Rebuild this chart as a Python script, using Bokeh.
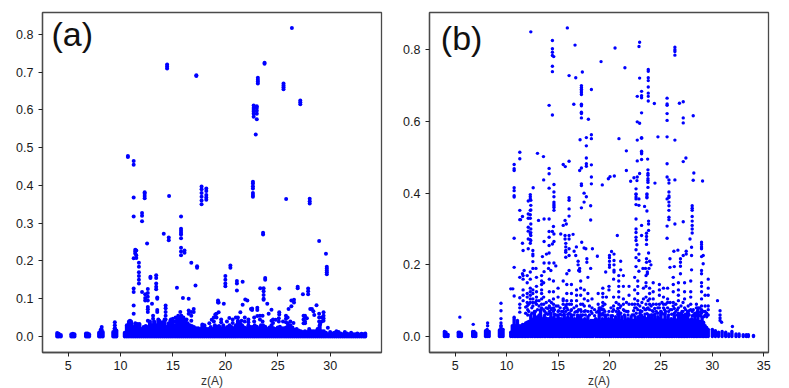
from bokeh.plotting import figure
from bokeh.layouts import row
from bokeh.models import FixedTicker, Label, NumeralTickFormatter, Range1d
from bokeh.embed import file_html
from bokeh.resources import INLINE

# every row is [z, reading, reading, ...]
a_high = [
 [26.35,.817],[14.44,.72,.715,.71],[17.23,.692,.69],[23.74,.725,.722],[23.1,.685,.68,.675,.67],
 [25.55,.67,.665,.66,.655],[27.15,.625,.62,.615],[22.7,.612,.605,.6,.595,.59,.582],
 [23.0,.61,.605,.598,.59,.575],[22.9,.535],[10.7,.478,.475],[11.25,.465,.455,.368,.318,.207,.127,.118,.082,.06],
]
a_mid = [
 [12.3,.382,.378,.372,.366],[14.63,.372],[17.73,.397,.39,.38,.37,.36,.35],[18.18,.392,.385,.375,.368,.362],
 [22.63,.41,.405,.398,.392,.38,.375,.37],[25.8,.364],[28.05,.365,.358,.352],[12.05,.327,.32,.305,.118],
 [12.53,.246],[14.12,.272],[14.6,.262,.255],[15.77,.318,.285,.28,.275,.27,.26,.235,.225,.215],[16.1,.228,.222],
 [16.75,.195],[17.3,.186,.182],[20.48,.188,.182],[20.0,.16,.15,.14,.133],[21.1,.147,.14,.122],[21.65,.145],
 [23.6,.275,.27],[23.8,.155,.15],[23.33,.128],[23.65,.128,.12,.11,.1,.097],[25.15,.127],[26.9,.132,.128],
 [27.4,.112],[27.9,.127,.12,.112],[28.95,.253],[29.6,.219],[29.68,.185,.18,.175,.17,.165],[11.4,.23,.225,.22],
 [11.5,.228,.215,.208],[11.75,.195,.185,.17,.16,.15,.14],
]
a_low = [
 [12.6,.126,.115,.105,.095,.078,.072,.065,.042],[12.35,.112,.102,.095],[12.85,.158,.155],
 [13.4,.162,.155,.14,.132,.125],[13.0,.087],[13.5,.103,.1,.07,.065],[15.38,.129],[15.95,.102],[16.5,.1,.069,.06],
 [17.15,.135],[19.3,.095,.09],[19.85,.087],[21.9,.098],[22.1,.095],[21.65,.084],[22.55,.074,.07],[23.05,.076,.07,.054],
 [24.0,.087],[24.4,.071,.042],[26.3,.095,.08],[26.55,.097,.09],[28.7,.083],[28.1,.073],[28.4,.067],
 [27.6,.055,.05,.04,.035],[14.3,.082,.075,.065,.055,.045],[13.1,.055,.047],[16.98,.073,.065],[16.75,.065,.055,.042],
 [15.7,.065],[15.5,.055,.045,.035],[15.0,.047,.04,.032],[10.9,.042],[19.36,.09,.064],[18.47,.035],[18.7,.044],
 [19.04,.058],[20.38,.049],[21.0,.05],[21.43,.064],[22.44,.073],[24.13,.06],[25.14,.064,.058],[24.8,.044],
 [26.03,.073],[25.78,.055,.047,.038],[25.94,.05,.035],[27.46,.055,.045,.035],[27.78,.048],[28.26,.073],
 [28.48,.057],[29.37,.064,.055,.048,.042],[29.05,.033],[29.78,.023],[9.45,.038,.03,.022],[8.2,.025,.018],
]
a_speck = [
 [13.7,.042,.035],[14.0,.038],[14.75,.042],[15.25,.05,.04],[16.0,.05,.04],[16.3,.045],[18.9,.05,.04],[19.15,.06,.05],
 [19.6,.045,.038],[20.15,.04],[20.7,.045,.036],[21.2,.05,.042],[21.55,.042],[21.85,.05,.04],[22.2,.045,.038],[22.75,.05,.04],
 [23.3,.055,.045],[23.55,.055,.04],[24.55,.045,.036],[25.1,.048,.04],[25.5,.04],[26.2,.04],[26.5,.036],[28.95,.06,.05,.04],[29.2,.05,.04],
]
a_base_z = [3.95,4.1,4.3,5.3,5.45,5.6,6.7,6.85,7.0,7.95,8.1,8.3,9.3,9.45,9.6,
 10.4,10.6,10.8,11.0,11.2,11.4,11.6,11.8,12.0,12.2,12.4,12.6,12.8,13.0,13.2,13.4,13.6,13.8,14.0,14.2,14.4,14.6,14.8,15.0,15.2,15.4,15.6,15.8,16.0,16.2,16.4,16.6,16.8,17.0,17.2,17.4,17.6,17.8,18.0,18.2,18.4,18.6,18.8,19.0,19.2,19.4,19.6,19.8,20.0,20.2,20.4,20.6,20.8,21.0,21.2,21.4,21.6,21.8,22.0,22.2,22.4,22.6,22.8,23.0,23.2,23.4,23.6,23.8,24.0,24.2,24.4,24.6,24.8,25.0,25.2,25.4,25.6,25.8,26.0,26.2,26.4,26.6,26.8,27.0,27.2,27.4,27.6,27.8,28.0,28.2,28.4,28.6,28.8,29.0,29.2,29.4,29.6,29.8,30.0,30.2,30.4,30.6,30.8,31.0,31.2,31.4,31.6,31.8,32.0,32.2,32.4,32.6,32.8,33.0,33.2,33.35]
a_base_top = [.009,.007,.004,.006,.007,.006,.008,.008,.006,.01,.018,.012,.012,.022,.016,
 .01,.03,.04,.04,.025,.035,.033,.033,.02,.025,.028,.025,.04,.03,.04,.03,.045,.035,.035,.045,.025,.035,.045,.03,.03,.045,.05,.055,.045,.04,.035,.03,.028,.025,.022,.022,.02,.032,.03,.02,.02,.025,.02,.03,.026,.028,.022,.03,.022,.025,.03,.025,.022,.03,.04,.035,.03,.024,.022,.03,.025,.025,.03,.026,.022,.03,.03,.026,.02,.024,.03,.022,.02,.024,.026,.022,.022,.024,.03,.03,.024,.018,.02,.016,.014,.012,.014,.012,.02,.014,.014,.014,.02,.03,.014,.014,.01,.006,.012,.008,.01,.014,.012,.008,.006,.012,.008,.006,.01,.006,.006,.008,.005,.007,.006,.008]

b_high = [
 [12.35,.85],[15.9,.861],[14.45,.826,.803,.793,.784,.754,.739,.618],[14.58,.781],[16.65,.813],[16.07,.728],[16.72,.722],
 [17.36,.738],[17.27,.70,.695,.69,.685,.68,.675,.648,.644,.626,.622,.61],[18.24,.689,.563,.552,.479,.445,.426],
 [16.53,.648],[17.95,.606],[14.13,.645,.469,.454,.414],[20.54,.805],[19.18,.767],[21.5,.75],[22.93,.821,.721,.595,.455],
 [22.87,.809],[26.36,.807,.80,.795,.785,.548,.437],[23.77,.745,.74,.722,.714,.696,.679,.67,.657],[23.12,.684,.672,.666,.624,.555,.553,.517,.513,.51,.494],
 [22.7,.67,.599,.548,.49,.445],[24.36,.65],[25.6,.665,.649,.645,.622,.603,.557,.482,.445,.384],[26.8,.651],[27.17,.655,.61,.596,.488],
 [28.14,.616,.436],[20.92,.552],[24.71,.557],[17.14,.549],[17.75,.555,.532,.498,.482,.475,.39],[21.64,.518,.463],
 [23.71,.495],[11.28,.514,.496,.352,.326],[13.0,.511],[13.58,.502],[10.73,.48,.468,.463,.415,.407,.393,.389,.274,.193,.113],
 [13.6,.437],[12.58,.415],[14.6,.424,.403,.39,.375,.37,.365,.36,.352],[12.3,.396,.39,.384,.352,.34,.33,.287,.27,.26],
 [15.5,.48,.31],[15.7,.474],[16.07,.489,.387,.38,.356,.336,.282,.272,.184],[17.1,.463,.19,.182],[17.27,.47,.426,.421,.359],
 [17.53,.40,.375,.247],[19.3,.423],[19.89,.44],[20.05,.446],[20.47,.448],[22.38,.443],[22.06,.433],[22.67,.435,.256],
 [23.74,.465,.455,.45,.44,.435,.43,.416],[24.42,.428],[25.78,.437,.428,.403,.392,.388,.375,.365,.352,.333,.326],
 [27.43,.498],[28.2,.456],[29.05,.434],[22.58,.412,.398,.389,.396,.384,.368,.328,.30,.29,.277,.268,.242,.22,.195],
 [23.64,.398,.389,.395,.387,.35],
]
b_mid = [
 [12.35,.38,.366,.353,.314,.30,.29,.282,.268],[12.1,.378,.342,.33,.305,.294,.272,.245],[11.54,.335,.175,.26],[11.35,.326],[11.6,.24],
 [12.55,.24,.23,.225,.209,.19],[11.7,.184],[12.85,.19],[13.1,.324],[13.64,.328,.265],[14.13,.328,.293,.277,.254,.233,.205],
 [15.68,.324,.282,.272],[15.8,.314],[18.17,.365,.325,.19],[14.55,.307],[14.45,.293,.258],[14.6,.286,.265,.205],
 [15.26,.286],[16.46,.285],[20.76,.282],[15.75,.26,.25,.24,.235,.221],[16.07,.245,.226],[16.78,.25],[17.3,.263],
 [17.7,.245],[18.34,.245],[16.56,.238],[16.72,.226],[16.95,.21,.2],[17.8,.217,.207],[18.82,.224],[20.2,.237],
 [20.44,.23,.212,.2,.185,.18],[20.0,.226,.22,.21,.2,.193],[21.09,.21,.186],[13.48,.223],[13.87,.23],[14.78,.197],
 [13.64,.205,.181],[14.07,.19],[14.3,.184],[17.0,.184],[19.63,.18],[22.86,.384,.366,.23,.212,.182],[23.41,.363],
 [23.8,.322,.314,.296,.233],[23.12,.31,.282],[23.6,.288,.279,.27,.257,.217,.207],[23.9,.21],[24.03,.2],[23.25,.19],
 [23.5,.19],[23.84,.19],[23.68,.18,.175],[25.6,.308,.274],[26.36,.314],[27.17,.32,.226],[28.04,.365,.358,.352,.335,.322,.31,.30,.289],
 [27.83,.272],[27.98,.249,.226,.186],[28.95,.263,.257,.25,.245,.223,.184,.175],[26.26,.238],[26.65,.241],[27.46,.238,.23],
 [29.11,.226,.203],[26.9,.217,.207,.196],[25.88,.217,.193],[26.3,.195],[26.9,.175],
]
b_low = [
 [10.4,.133],[10.6,.133],[11.28,.165,.108,.09,.08,.068],[11.6,.17,.16,.13,.115,.10],[12.0,.17,.15,.12,.11,.095,.085],
 [12.3,.18,.16,.135,.125,.115,.105,.095],[12.55,.13,.12,.105,.095,.085],[12.9,.165,.14,.125,.11,.1,.09],
 [13.4,.17,.155,.145,.13,.12,.105,.09,.08],[13.6,.15,.11,.09,.075],[14.15,.16,.125,.10,.085,.07],
 [14.55,.155,.125,.105,.09,.08,.07],[15.0,.135,.11,.085,.07],[15.5,.155,.105,.10,.09,.07],[15.85,.175,.145,.12,.10,.09,.08],
 [16.3,.145,.12,.10,.09,.075],[16.8,.13,.115,.10,.085,.07],[17.2,.155,.135,.115,.09,.075],[17.55,.13,.105,.085,.07],
 [17.9,.165,.12,.10,.07],[18.3,.105,.08,.065],[18.9,.12,.09,.07],[19.35,.135,.12,.11,.095,.085,.075,.065],[19.7,.11],
 [19.95,.14,.13,.07],[20.4,.16,.11,.085,.075],[20.9,.17,.155,.14,.125,.11,.09,.07],[21.35,.17,.14,.105,.09,.075],
 [21.9,.14,.115,.09],[22.45,.165,.13,.105,.09,.08],[22.75,.155,.14,.12,.1,.09,.075],[23.3,.135,.105,.08],
 [23.55,.17,.15,.14,.11,.09,.075],[23.9,.135,.12,.105,.09,.075],[24.25,.15,.125,.105,.09,.07],[24.85,.145,.13,.115,.09,.08],
 [25.25,.135,.11,.09,.08],[25.65,.135,.105,.095,.08],[26.2,.165,.145,.125,.095,.085],[26.7,.15,.13,.115,.1,.08],
 [27.3,.15,.125,.105,.08],[27.9,.155,.125,.11,.09,.075],[28.45,.09,.08,.065],[28.95,.15,.14,.125,.105,.085,.075,.065],
 [29.3,.115,.085,.07,.06],[29.6,.16,.135,.115,.085,.075,.06],[30.5,.1],[30.75,.072,.06,.052,.045],[30.9,.04],[31.95,.028],
 [5.45,.054],[6.75,.034],[8.15,.038,.03],[9.45,.093,.072,.05,.038,.03],[4.0,.01],
]
b_speck = [
 [11.85,.082,.065],[12.15,.09,.07],[12.8,.095,.07],[13.15,.1,.085,.06],[13.85,.095,.08,.065],[14.35,.095,.075],[14.8,.085,.06],
 [15.2,.08,.062],[15.75,.085,.07],[16.1,.09,.065],[16.55,.08,.06],[17.0,.075,.055],[17.4,.09,.06],[18.05,.085,.06],[18.55,.075,.058],
 [19.15,.08,.062],[19.55,.09,.07],[20.15,.08,.058],[20.65,.095,.07],[21.1,.085,.065],[21.65,.095,.07],[22.2,.09,.06],[22.95,.085,.065],
 [23.15,.095,.07],[23.75,.1,.08],[24.05,.085,.06],[24.55,.09,.07],[25.1,.095,.065],[25.45,.09,.07],[25.9,.095,.075],[26.45,.09,.07],
 [26.95,.085,.065],[27.15,.095,.07],[27.65,.085,.065],[28.15,.075,.06],[28.75,.08,.06],
]
b_speck_more = [
 [12.05,.075,.06],[12.45,.08,.065],[13.0,.075],[13.3,.07,.058],[13.7,.07,.06],[14.0,.078,.062],[14.25,.08,.065],[14.65,.075,.062],
 [15.05,.072],[15.35,.07,.06],[15.6,.078,.063],[15.95,.075,.062],[16.25,.072,.06],[16.65,.068],[16.9,.07,.06],[17.25,.07,.058],
 [17.65,.072,.06],[18.2,.07],[18.75,.068],[19.25,.075,.06],[19.45,.075,.06],[19.85,.06],[20.3,.07,.058],[20.8,.078,.062],
 [21.0,.08,.062],[21.45,.072,.06],[21.8,.07,.06],[22.35,.072,.06],[22.6,.08,.065],[23.0,.072,.06],[23.45,.075,.062],
 [23.65,.078,.064],[24.15,.072,.06],[24.4,.078,.062],[24.7,.08,.065],[25.0,.07,.06],[25.35,.075,.062],[25.75,.07,.06],
 [26.05,.075,.062],[26.3,.078,.065],[26.6,.075,.06],[27.05,.07,.06],[27.4,.075,.062],[27.75,.072,.06],[28.05,.07,.058],
 [28.55,.07,.058],[28.85,.068,.058],[29.15,.07,.055],[29.45,.065,.055],
]
b_base_z = [3.95,4.1,4.3,5.3,5.45,5.6,6.7,6.85,7.0,7.95,8.1,8.3,9.3,9.45,9.65,
 10.4,10.73,11.05,11.4,11.7,12.0,12.35,12.7,13.0,13.3,13.65,14.0,14.3,14.6,15.0,15.3,15.6,15.95,16.3,16.6,16.9,17.2,17.6,17.9,18.2,18.66,19.0,19.3,19.6,19.9,20.2,20.6,20.9,21.2,21.5,21.8,22.1,22.5,22.8,23.1,23.4,23.8,24.1,24.4,24.7,25.0,25.4,25.7,26.0,26.3,26.7,27.0,27.3,27.6,28.0,28.3,28.6,29.0,29.3,29.6,30.0,30.3,30.6,30.95,31.3,31.6,31.9,32.3,32.6,33.0,33.3,33.5,34.0]
b_base_top = [.014,.012,.006,.012,.012,.008,.014,.014,.01,.016,.02,.014,.018,.03,.02,
 .012,.054,.045,.03,.034,.04,.06,.07,.055,.075,.055,.05,.065,.055,.06,.05,.06,.055,.06,.05,.055,.06,.05,.055,.045,.05,.08,.05,.06,.05,.055,.055,.065,.055,.055,.05,.055,.055,.055,.06,.055,.06,.055,.06,.055,.07,.065,.055,.05,.06,.065,.065,.06,.07,.05,.065,.08,.054,.03,.02,.02,.016,.012,.014,.012,.007,.014,.007,.007,.005,.005,.005,.003]
b_fill_z = [10.55,10.9,11.2,11.55,11.85,12.15,12.5,12.85,13.15,13.45,13.8,14.15,14.45,14.8,15.15,15.45,15.8,16.1,16.45,16.75,17.05,17.4,17.75,18.05,18.4,18.8,19.15,19.45,19.75,20.05,20.4,20.75,21.05,21.35,21.65,21.95,22.3,22.65,22.95,23.25,23.6,23.95,24.25,24.55,24.85,25.2,25.55,25.85,26.15,26.5,26.85,27.15,27.45,27.8,28.15,28.45,28.8,29.15,29.45]
b_fill_top = [.03,.03,.03,.034,.038,.042,.048,.05,.048,.05,.052,.05,.05,.048,.05,.048,.05,.05,.048,.045,.048,.046,.045,.042,.045,.046,.042,.046,.042,.046,.046,.046,.044,.042,.045,.046,.045,.046,.045,.046,.05,.046,.046,.046,.05,.046,.045,.045,.046,.046,.046,.05,.045,.046,.045,.045,.042,.04,.025]

x_ticks_a = [5,10,15,20,25,30]
x_ticks_b = [5,10,15,20,25,30,35]
y_ticks_a = [0,.1,.2,.3,.4,.5,.6,.7,.8]
y_ticks_b = [0,.2,.4,.6,.8]
x_label = "z(A)"
FRAME = "#4a4a4a"
BLUE = "#0000ff"

def panel(stems, base_sets, xr, yr, xt, yt, name, lx, ly, left, right, dot):
    p = figure(width=left+339+right, height=386, frame_width=339, frame_height=340,
               min_border_left=left, min_border_right=right, min_border_top=12, min_border_bottom=34,
               x_range=Range1d(*xr), y_range=Range1d(*yr),
               output_backend="svg", toolbar_location=None)
    p.grid.visible = False
    p.outline_line_color = FRAME
    p.outline_line_width = 1.3
    for ax in (p.xaxis[0], p.yaxis[0]):
        ax.axis_line_color = FRAME
        ax.axis_line_width = 1.3
        ax.major_tick_line_color = "#222222"
        ax.major_tick_in = 0
        ax.major_tick_out = 4
        ax.minor_tick_line_color = None
        ax.major_label_text_font = "Liberation Sans"
        ax.major_label_text_font_size = "12.5px"
        ax.major_label_text_color = "#1a1a1a"
    p.xaxis.ticker = FixedTicker(ticks=xt)
    p.yaxis.ticker = FixedTicker(ticks=yt)
    p.yaxis.formatter = NumeralTickFormatter(format="0.0")
    p.xaxis.axis_label = x_label
    p.xaxis.axis_label_text_font = "Liberation Sans"
    p.xaxis.axis_label_text_font_style = "normal"
    p.xaxis.axis_label_text_font_size = "12px"
    p.xaxis.axis_label_text_color = "#333333"
    p.xaxis.axis_label_standoff = 1
    p.xaxis.major_label_standoff = 4
    p.yaxis.major_label_standoff = 5
    for base_z, base_top in base_sets:
        p.segment(base_z, [0]*len(base_z), base_z, base_top, line_color=BLUE, line_width=dot, line_cap="round")
    xs, ys = [], []
    for group in stems:
        for entry in group:
            for v in entry[1:]:
                xs.append(entry[0]); ys.append(v)
    p.scatter(xs, ys, size=dot, fill_color=BLUE, line_color=None, marker="circle")
    p.add_layout(Label(x=lx, y=ly, text=name, text_font="Liberation Sans", text_font_size="34px",
                       text_color="#111111", text_baseline="alphabetic"))
    return p

pa = panel([a_high, a_mid, a_low, a_speck], [(a_base_z, a_base_top)], (2.55, 34.9), (-0.0424, 0.858),
           x_ticks_a, y_ticks_a, "(a)", 3.41, 0.8, 42, 14, 4)
pb = panel([b_high, b_mid, b_low, b_speck, b_speck_more], [(b_base_z, b_base_top), (b_fill_z, b_fill_top)], (2.5, 35.46), (-0.0446, 0.904),
           x_ticks_b, y_ticks_b, "(b)", 3.6, 0.834, 34, 14, 3.4)

page = row(pa, pb)
open("out.html", "w").write(file_html(page, INLINE))
